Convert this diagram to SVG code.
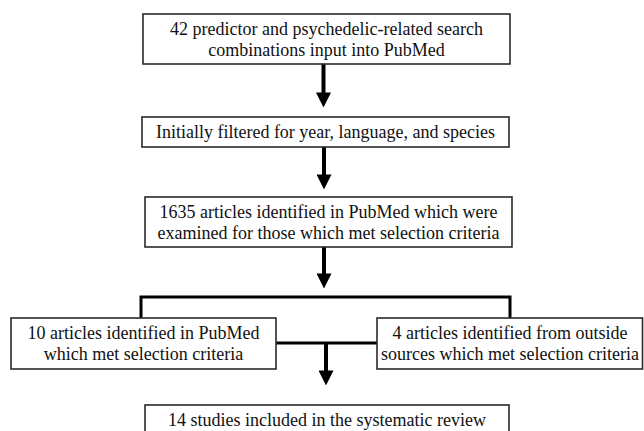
<svg xmlns="http://www.w3.org/2000/svg" width="644" height="431" viewBox="0 0 644 431">
<defs>
<style>
.box{fill:#fff;stroke:#2a2a2a;stroke-width:1.6}
text{font-family:'Liberation Serif','Times New Roman',serif;font-size:18px;fill:#111;text-anchor:middle}
.ln{fill:none;stroke:#000;stroke-width:3}
.sh{fill:none;stroke:#000;stroke-width:4}
</style>
<marker id="ah" viewBox="0 0 10 10" refX="0.5" refY="5" markerWidth="3.75" markerHeight="3.75" markerUnits="strokeWidth" orient="auto">
<path d="M0,0 L10,5 L0,10 Z" fill="#000"/>
</marker>
</defs>
<rect width="644" height="431" fill="#fff"/>
<g id="connectors">
<path class="sh" d="M323.5,64 V93.2" marker-end="url(#ah)"/>
<path class="sh" d="M324,147 V175.2" marker-end="url(#ah)"/>
<path class="sh" d="M324,247 V274.2" marker-end="url(#ah)"/>
<path class="ln" d="M141,318 V297 H510 V318"/>
<path class="ln" d="M276,343 H377"/>
<path class="sh" d="M326,343 V371.2" marker-end="url(#ah)"/>
</g>
<g id="n1">
<rect class="box" x="143" y="14" width="367" height="50"/>
<text x="326.5" y="35">42 predictor and psychedelic-related search</text>
<text x="326.5" y="56">combinations input into PubMed</text>
</g>
<g id="n2">
<rect class="box" x="142" y="117" width="367" height="30"/>
<text x="325.5" y="138">Initially filtered for year, language, and species</text>
</g>
<g id="n3">
<rect class="box" x="145" y="197" width="367" height="50"/>
<text x="328.5" y="218">1635 articles identified in PubMed which were</text>
<text x="328.5" y="239">examined for those which met selection criteria</text>
</g>
<g id="n4">
<rect class="box" x="11" y="318" width="265" height="51"/>
<text x="143.5" y="339">10 articles identified in PubMed</text>
<text x="143.5" y="360">which met selection criteria</text>
</g>
<g id="n5">
<rect class="box" x="377" y="318" width="265.5" height="51"/>
<text x="510" y="339">4 articles identified from outside</text>
<text x="510" y="360">sources which met selection criteria</text>
</g>
<g id="n6">
<rect class="box" x="145" y="405" width="364" height="40"/>
<text x="327" y="426">14 studies included in the systematic review</text>
</g>
</svg>
